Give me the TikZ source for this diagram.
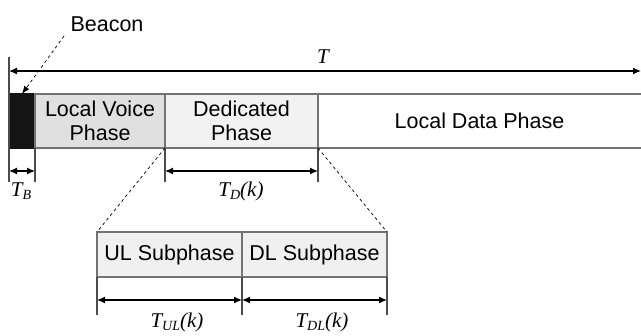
\documentclass[tikz,border=0pt]{standalone}
\usepackage{fontspec}
\setmainfont{Liberation Sans}
\newfontfamily\timesfont{Liberation Serif}
\usetikzlibrary{positioning,arrows.meta}

\colorlet{phase edge}{black!55}
\colorlet{voice area}{black!12}
\colorlet{dedicated area}{black!5}
\colorlet{sub area}{black!6}
\tikzset{
  phase/.style={draw=phase edge, line width=1.2pt, minimum height=54pt, inner sep=0pt, outer sep=0pt, align=center, font=\fontsize{21.5}{24}\selectfont},
  subphase/.style={phase, minimum height=45pt, minimum width=145pt, fill=sub area},
  dim/.style={draw, line width=1.2pt, {Latex[length=8pt,width=7pt]}-{Latex[length=8pt,width=7pt]}},
  zoomline/.style={draw, dashed, line width=0.7pt}
  }
\tikzstyle{tick} = [draw=black!70, line width=1.2pt, -]
\tikzstyle{timelabel}=[font=\timesfont\itshape\fontsize{21}{22}\selectfont, inner sep=0pt]
\newcommand{\tsub}[1]{T\raisebox{-0.35ex}{\fontsize{14}{14}\selectfont #1}}

\begin{document}
\begin{tikzpicture}[x=1pt,y=-1pt]
  \useasboundingbox (0,0) rectangle (641,336);
  % main frame
  \node[phase, fill=black!92, draw=black!92, minimum width=26pt, anchor=north west] (beacon) at (9,94) {};
  \node[phase, fill=voice area, minimum width=130pt, right=0pt of beacon] (voice) {Local Voice\\Phase};
  \node[phase, fill=dedicated area, minimum width=153pt, right=0pt of voice] (dedicated) {Dedicated\\Phase};
  \node[phase, draw=none, minimum width=323pt, right=0pt of dedicated] (data) {Local Data Phase};
  \draw[tick, draw=phase edge] (data.north west) -- (data.north east);
  \draw[tick, draw=phase edge] (data.south west) -- (data.south east);

  % beacon label
  \node[font=\fontsize{21.5}{24}\selectfont] (beacon label) at (107,24) {Beacon};
  \draw[zoomline, -{Latex[length=8pt,width=6pt]}] ([xshift=-3pt,yshift=-1pt]beacon label.south west) -- (beacon.north);

  % frame period
  \coordinate (left top) at (9,57);
  \coordinate (left bottom) at (9,182);
  \coordinate (T left) at (9,71);
  \coordinate (T right) at (641,71);
  \draw[tick] (left top) -- (left bottom);
  \draw[dim] (T left) -- (T right);
  \node[timelabel] (period) at (323,57) {T};

  % lengths below the frame
  \foreach \pos in {beacon.south east, dedicated.south west, dedicated.south east}
     \draw[tick] (\pos) -- ++(0,34);
  \draw[dim] ([yshift=-23pt]beacon.south west) -- ([yshift=-23pt]beacon.south east);
  \draw[dim] ([yshift=-23pt]dedicated.south west) -- ([yshift=-23pt]dedicated.south east);
  \node[timelabel] (tb) at (21,191) {\tsub{B}};
  \node[timelabel] (td) at (241,191) {\tsub{D}(k)};

  % dedicated phase in detail
  \node[subphase, anchor=north west] (ul) at (97,232) {UL Subphase};
  \node[subphase, right=0pt of ul] (dl) {DL Subphase};
  \draw[zoomline] (dedicated.south west) -- (ul.north west);
  \draw[zoomline] (dedicated.south east) -- (dl.north east);
  \foreach \pos in {ul.south west, ul.south east, dl.south east}
     \draw[tick] (\pos) -- ++(0,38);
  \draw[dim] ([yshift=-23pt]ul.south west) -- ([yshift=-23pt]ul.south east);
  \draw[dim] ([yshift=-23pt]dl.south west) -- ([yshift=-23pt]dl.south east);
  \node[timelabel] (tul) at (177,322) {\tsub{UL}(k)};
  \node[timelabel] (tdl) at (322,322) {\tsub{DL}(k)};
\end{tikzpicture}
\end{document}
